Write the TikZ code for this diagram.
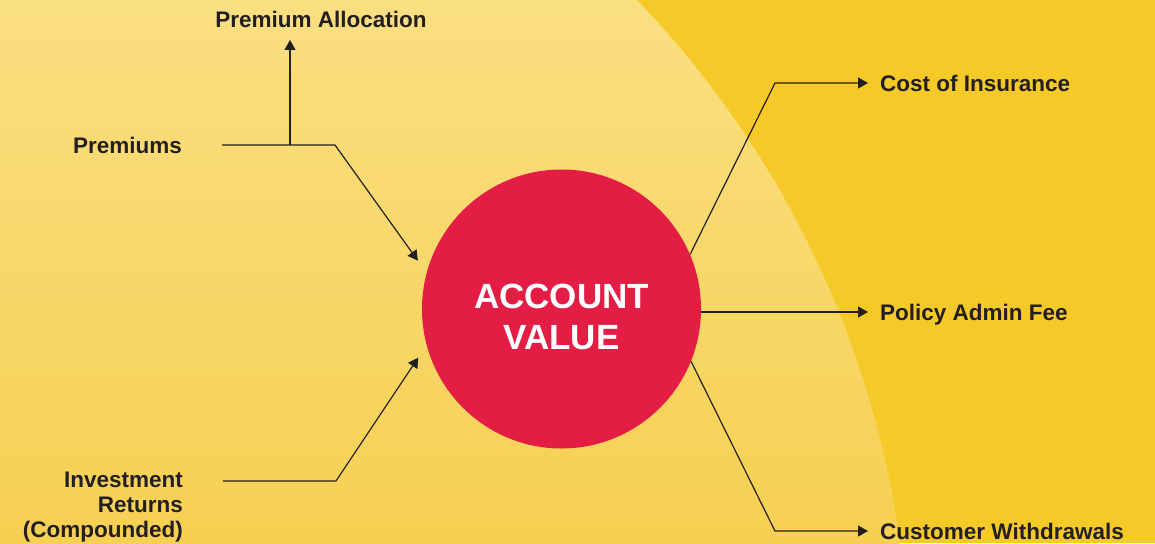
\documentclass[tikz,border=0pt]{standalone}
\usepackage{fontspec}
\setmainfont{Liberation Sans}
\usetikzlibrary{positioning,arrows.meta}
\definecolor{bgyellow}{RGB}{245,201,39}
\definecolor{lighttop}{RGB}{250,223,130}
\definecolor{lightbot}{RGB}{246,208,82}
\definecolor{avred}{RGB}{228,29,69}
\definecolor{ink}{RGB}{35,31,32}

\begin{document}
\begin{tikzpicture}[x=1pt, y=-1pt,
        lbl/.style={inner sep=0pt, text=ink, font=\bfseries\fontsize{22.5}{25}\selectfont},
        flow/.style={draw=ink, line width=1.2pt, -{Triangle[length=10pt,width=11pt]}}]
                \useasboundingbox (0,0) rectangle (1155,543);
                \fill[bgyellow] (0,0) rectangle (1155,543);
                \begin{scope}
                        \clip (-67.3,676.3) circle (976.4pt);
                        \shade[top color=lighttop, bottom color=lightbot] (0,0) rectangle (1155,543);
                \end{scope}

                \node (av) [circle, fill=avred, minimum size=279pt, inner sep=0pt] at (561.5,309) {};
                \node (avtext) [inner sep=0pt, text=white, align=center, font=\bfseries\fontsize{35}{41}\selectfont] at ([yshift=-8pt]av.center) {ACCOUNT\\VALUE};

                \node (prem) [lbl, text height=16pt, text depth=0pt, anchor=east] at (182,145) {Premiums};
                \node (alloc) [lbl, text height=16pt, text depth=0pt, anchor=south] at (321,28) {Premium Allocation};
                \node (inv) [lbl, align=right, anchor=north east] at (183,472) {Investment\\Returns\\(Compounded)};
                \node (cost) [lbl, text height=16pt, text depth=0pt, anchor=west] at (880,83) {Cost of Insurance};
                \node (fee) [lbl, text height=16pt, text depth=0pt, anchor=west] at (880,312) {Policy Admin Fee};
                \node (wd) [lbl, text height=16pt, text depth=0pt, anchor=west] at (880,531) {Customer Withdrawals};
                \coordinate (split) at (290,145);

			\draw[flow, shorten <=40pt, shorten >=15pt] (prem.east) -- ([xshift=153pt]prem.east) -- (av.165);
			\draw[flow, shorten >=12pt] (split) -- (split |- alloc.south);
			\draw[flow, shorten >=15pt] ([shift={(40pt,-9pt)}]inv.north east) -- ([shift={(153pt,-9pt)}]inv.north east) -- (av.195);
                \draw[flow, shorten >=12pt] (av.23) -- ([xshift=-105pt]cost.west) -- (cost.west);
                \draw[flow, shorten >=12pt] (av.east |- fee.west) -- (fee.west);
                \draw[flow, shorten >=12pt] (av.-22) -- ([xshift=-105pt]wd.west) -- (wd.west);
	\end{tikzpicture}
\end{document}
